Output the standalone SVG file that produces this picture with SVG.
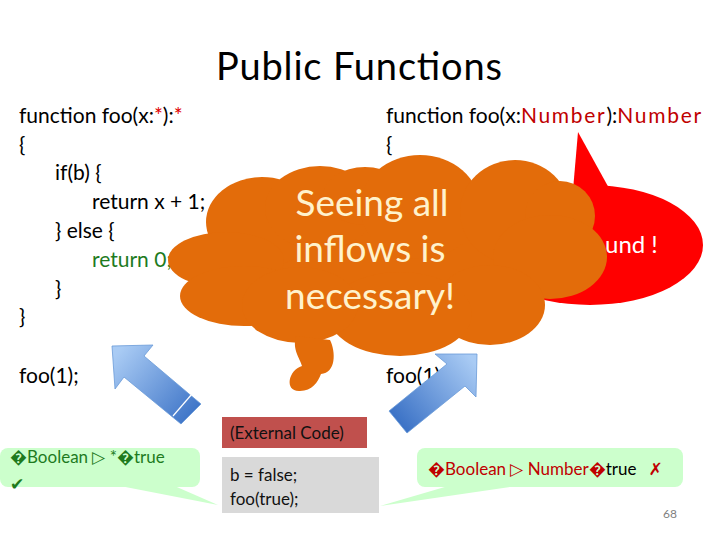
<svg xmlns="http://www.w3.org/2000/svg" width="720" height="540" viewBox="0 0 720 540">
<style>
text { font-family: Lato, "Liberation Sans", sans-serif; }
.code { font-size: 21px; fill: #000; }
.star { fill: #E00000; }
.num { fill: #C00000; letter-spacing: 1.7px; }
.ret0 { fill: #1E7B1E; }
.cloud { fill: #E36C0A; }
.cloudtxt { font-size: 37px; fill: #FFF2CC; text-anchor: middle; }
.box { font-size: 17px; fill: #111; }
.callout { fill: #CCFFCC; }
.gtxt { font-size: 17px; fill: #1E7B1E; }
.rtxt { font-size: 17px; fill: #C00000; }
</style>
<defs>
<linearGradient id="gl" gradientUnits="userSpaceOnUse" x1="118" y1="352" x2="195" y2="418">
<stop offset="0" stop-color="#A9CBF4"/>
<stop offset="1" stop-color="#3B72C6"/>
</linearGradient>
<linearGradient id="gr" gradientUnits="userSpaceOnUse" x1="472" y1="360" x2="398" y2="422">
<stop offset="0" stop-color="#A9CBF4"/>
<stop offset="1" stop-color="#3B72C6"/>
</linearGradient>
</defs>
<rect width="720" height="540" fill="#fff"/>

<g id="title">
<text x="359" y="80" font-size="38" text-anchor="middle" fill="#000" textLength="286">Public Functions</text>
</g>

<g id="code-left">
<text class="code" x="19" y="123">function foo(x:<tspan class="star">*</tspan>):<tspan class="star">*</tspan></text>
<text class="code" x="19" y="152">{</text>
<text class="code" x="55" y="180">if(b) {</text>
<text class="code" x="92" y="209">return x + 1;</text>
<text class="code" x="55" y="238">} else {</text>
<text class="code ret0" x="92" y="267">return 0;</text>
<text class="code" x="55" y="296">}</text>
<text class="code" x="19" y="324">}</text>
<text class="code" x="19" y="383">foo(1);</text>
</g>

<g id="code-right">
<text class="code" x="386" y="123">function foo(x:<tspan class="num">Number</tspan>):<tspan class="num">Number</tspan></text>
<text class="code" x="386" y="152">{</text>
<text class="code" x="386" y="383">foo(1);</text>
</g>

<g id="bubble">
<polygon points="573,190 578,132 610,190" fill="#FF0000"/>
<ellipse cx="590" cy="245" rx="113" ry="60" fill="#FF0000"/>
<text x="605" y="253" font-size="24" fill="#FFFFFF">und !</text>
</g>

<g id="cloud" class="cloud">
<ellipse cx="400" cy="262" rx="160" ry="75"/>
<ellipse cx="262" cy="222" rx="56" ry="45"/>
<ellipse cx="226" cy="260" rx="58" ry="28"/>
<ellipse cx="244" cy="296" rx="64" ry="30"/>
<ellipse cx="320" cy="208" rx="55" ry="42"/>
<ellipse cx="365" cy="196" rx="42" ry="29"/>
<ellipse cx="420" cy="207" rx="60" ry="52"/>
<ellipse cx="515" cy="212" rx="55" ry="52"/>
<ellipse cx="560" cy="216" rx="35" ry="35"/>
<ellipse cx="550" cy="257" rx="57" ry="42"/>
<ellipse cx="490" cy="305" rx="55" ry="40"/>
<ellipse cx="400" cy="314" rx="72" ry="42"/>
<ellipse cx="300" cy="305" rx="58" ry="38"/>
<path d="M296,336 C292,350 300,358 302,366 C288,370 284,392 300,391 C312,391 318,382 321,374 C336,373 336,352 330,340 Z"/>
<text class="cloudtxt" x="372" y="216">Seeing all</text>
<text class="cloudtxt" x="370" y="262">inflows is</text>
<text class="cloudtxt" x="370" y="309">necessary!</text>
</g>

<g id="connectors">
<polygon points="112,346 153,345 144,356 201,404 181,424 124,377 115,389" fill="url(#gl)" stroke="#6A9AD8" stroke-width="0.8"/>
<line x1="192" y1="394" x2="173" y2="416" stroke="#fff" stroke-width="1.2"/>
<polygon points="477,354 476,397 465,386 407,433 389,411 447,364 435,354" fill="url(#gr)" stroke="#6A9AD8" stroke-width="0.8"/>
</g>

<g id="external-code">
<rect x="222" y="417" width="145" height="31" fill="#C0504D"/>
<text class="box" x="230" y="439">(External Code)</text>
</g>

<g id="caller">
<rect x="222" y="457" width="157" height="56" fill="#D9D9D9"/>
<text class="box" x="230" y="481">b = false;</text>
<text class="box" x="230" y="505">foo(true);</text>
</g>

<g id="callout-left">
<polygon points="110,484 170,484 218,505" class="callout"/>
<rect x="0" y="448" width="200" height="39" rx="8" class="callout"/>
<text class="gtxt" x="10" y="463">�Boolean ▷ *�true</text>
<text class="gtxt" x="10" y="490" font-family="DejaVu Sans, sans-serif">✔</text>
</g>

<g id="callout-right">
<polygon points="455,484 530,484 380,506" class="callout"/>
<rect x="417" y="448" width="266" height="39" rx="8" class="callout"/>
<text class="rtxt" x="428" y="475">�Boolean ▷ Number�<tspan fill="#000">true</tspan><tspan dx="12" font-family="DejaVu Sans, sans-serif">✗</tspan></text>
</g>

<g id="page-number">
<text x="663" y="518" font-size="12" fill="#7F7F7F">68</text>
</g>
</svg>
